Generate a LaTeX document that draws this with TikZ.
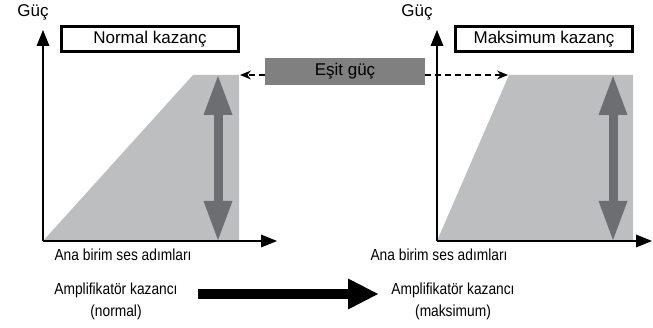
\documentclass[tikz,border=0pt]{standalone}
\usepackage{fontspec}
\setmainfont{Liberation Sans}
\newfontfamily\narrowfont[FakeStretch=0.86]{Liberation Sans}
\usetikzlibrary{arrows.meta}

\definecolor{areagray}{HTML}{BDBEC0}
\definecolor{levelgray}{HTML}{6D6E71}
\definecolor{equalgray}{HTML}{808080}

\tikzset{
  axisline/.style={line width=2.5pt, -{Triangle[length=16pt,width=13pt,line width=0pt]}},
  gainbox/.style={draw, line width=2.5pt, minimum width=177pt, minimum height=25pt,
    inner sep=0pt, font=\fontsize{17}{20}\selectfont},
  levelarrow/.style={levelgray, line width=9pt,
    {Triangle[length=39pt,width=29pt,line width=0pt]}-{Triangle[length=39pt,width=29pt,line width=0pt]}},
  dasharrow/.style={line width=1.8pt, dash pattern=on 6pt off 4pt,
    -{Stealth[length=11pt,width=9pt,line width=0pt]}},
  caption/.style={align=center, inner sep=0pt, font=\narrowfont\fontsize{16}{22}\selectfont}
}

\begin{document}
\begin{tikzpicture}[x=1pt, y=-1pt]
  \useasboundingbox (0,0) rectangle (653,328);

  \coordinate (orgA)  at (43,241);
  \coordinate (topA)  at (43,30);
  \coordinate (endA)  at (277,241);
  \coordinate (orgB)  at (437,241);
  \coordinate (topB)  at (437,30);
  \coordinate (endB)  at (652,241);

  \fill[areagray] (orgA) -- (193,75) -- (239,75) -- (239,241) -- cycle;
  \fill[areagray] (orgB) -- (509,75) -- (633,75) -- (633,241) -- cycle;

  \coordinate (levelAtop) at (218,76);
  \coordinate (levelAbot) at (218,240);
  \coordinate (levelBtop) at (613,76);
  \coordinate (levelBbot) at (613,240);
  \draw[levelarrow] (levelAbot) -- (levelAtop);
  \draw[levelarrow] (levelBbot) -- (levelBtop);

  \draw[axisline] (orgA) -- (topA);
  \draw[axisline] (orgA) -- (endA);
  \draw[axisline] (orgB) -- (topB);
  \draw[axisline] (orgB) -- (endB);

  \node (powerA) at (33,12) {\fontsize{17}{20}\selectfont Güç};
  \node (powerB) at (417,12) {\fontsize{17}{20}\selectfont Güç};

  \node (normal)  at (150,39) [gainbox] {Normal kazanç};
  \node (maximum) at (544,39) [gainbox] {Maksimum kazanç};

  \node (equal) at (345,71.5) [fill=equalgray, minimum width=160pt, minimum height=27pt,
    inner sep=0pt, font=\fontsize{17}{20}\selectfont] {Eşit güç};
  \coordinate (reachA) at (240,75);
  \coordinate (reachB) at (508,75);
  \draw[dasharrow] (equal.west |- reachA) -- (reachA);
  \draw[dasharrow] (equal.east |- reachB) -- (reachB);

  \node (stepsA) at (123,255) [caption] {Ana birim ses adımları};
  \node (stepsB) at (439,255) [caption] {Ana birim ses adımları};

  \node (ampA) at (116,301) [caption] {Amplifikatör kazancı\\(normal)};
  \node (ampB) at (453,301) [caption] {Amplifikatör kazancı\\(maksimum)};

  \coordinate (gainfrom) at (198,294);
  \coordinate (gainto)   at (378,294);
  \draw[line width=10pt, -{Triangle[length=30pt,width=31pt,line width=0pt]}] (gainfrom) -- (gainto);
\end{tikzpicture}
\end{document}
